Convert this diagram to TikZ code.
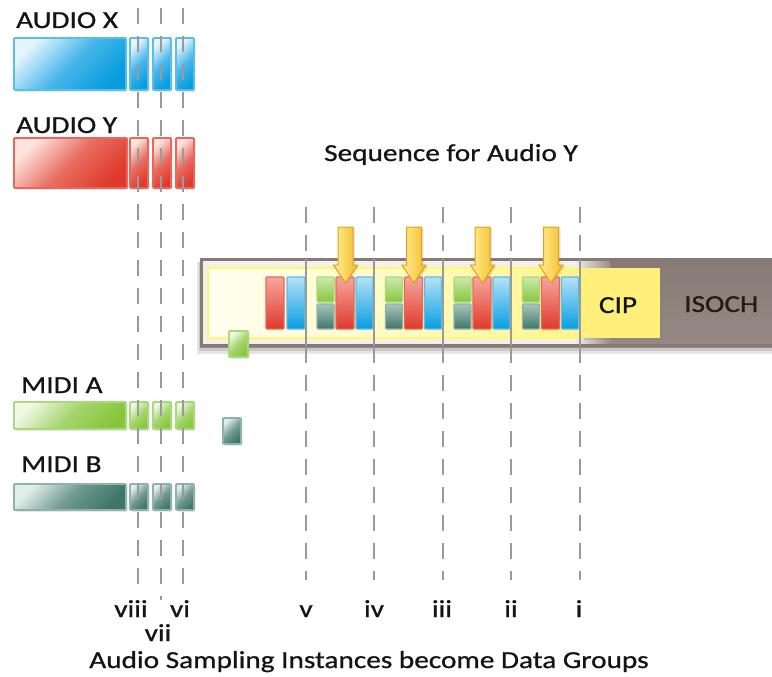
\documentclass[tikz,border=0pt]{standalone}
\usepackage{fontspec}
\setmainfont{Carlito}[FakeStretch=1.2, FakeBold=0.8]
\usetikzlibrary{shadows}

% stream colours: light / dark / edge
\definecolor{bluelight}{HTML}{E4F5FD}
\definecolor{bluedark}{HTML}{079DE0}
\definecolor{blueedge}{HTML}{5BBDE8}
\definecolor{redlight}{HTML}{FCE3DE}
\definecolor{reddark}{HTML}{DF3A2B}
\definecolor{rededge}{HTML}{E8675C}
\definecolor{greenlight}{HTML}{EEF8E2}
\definecolor{greendark}{HTML}{86C63C}
\definecolor{greenedge}{HTML}{A9D97A}
\definecolor{teallight}{HTML}{E2EEEA}
\definecolor{tealdark}{HTML}{3E7669}
\definecolor{tealedge}{HTML}{90B2A9}
% packet block colours
\definecolor{redtop}{HTML}{F6A79D}
\definecolor{bluetop}{HTML}{B5E2F8}
\definecolor{greentop}{HTML}{CDEAAE}
\definecolor{tealtop}{HTML}{A9C5BD}
% frame and CIP
\definecolor{isochtop}{HTML}{877A74}
\definecolor{isochbot}{HTML}{978A84}
\definecolor{framelight}{HTML}{F3EFED}
\definecolor{yellowedge}{HTML}{FFFA6A}
\definecolor{cipleft}{HTML}{FFFEF0}
\definecolor{cipmid}{HTML}{FFFBC4}
\definecolor{cipright}{HTML}{FFF48A}
\definecolor{cipyellow}{HTML}{FFF07C}
\definecolor{arrowlight}{HTML}{FFEE96}
\definecolor{arrowdark}{HTML}{F4BC28}
\definecolor{arrowedge}{HTML}{E0A21A}
\definecolor{guide}{HTML}{9A9A9A}
\definecolor{ink}{HTML}{141414}

\tikzset{
  lbl/.style={font=\fontsize{24.4}{28}\selectfont, text=ink, inner sep=0pt},
  srcbox/.style={draw=#1edge, line width=1.8pt, top color=#1light, bottom color=#1dark,
    middle color=#1dark!70!#1light, shading angle=45, rounded corners=1pt,
    drop shadow={shadow xshift=1.5pt, shadow yshift=-2pt, opacity=.18}},
  pkt/.style={draw=#1edge, line width=1.3pt, top color=#1top, bottom color=#1dark,
    rounded corners=1pt},
  guideline/.style={draw=guide, line width=1.6pt, dash pattern=on 16pt off 12pt},
  guidesolid/.style={draw=guide, line width=1.4pt},
  downarrow/.style={draw=arrowedge, line width=1pt, left color=arrowlight, right color=arrowdark,
    drop shadow={shadow xshift=2pt, shadow yshift=-1pt, opacity=.2}},
}

\begin{document}
\begin{tikzpicture}[x=1pt,y=-1pt]
\useasboundingbox[fill=white] (0,0) rectangle (772,677);

% ---- source streams ----
\node[lbl, anchor=base west] (audiox) at (16,28) {AUDIO X};
\path[srcbox=blue] (14,38) rectangle (126,90);
\foreach \x in {130,153,176} \path[srcbox=blue] (\x,38) rectangle ++(18,52);

\node[lbl, anchor=base west] (audioy) at (16,133) {AUDIO Y};
\path[srcbox=red] (14,138) rectangle (127,188);
\foreach \x in {130,153,176} \path[srcbox=red] (\x,138) rectangle ++(18,50);

\node[lbl, anchor=base west] (midia) at (21,393) {MIDI A};
\path[srcbox=green] (14,402) rectangle (126,429);
\foreach \x in {130,153,176} \path[srcbox=green] (\x,402) rectangle ++(18,27);

\node[lbl, anchor=base west] (midib) at (21,472) {MIDI B};
\path[srcbox=teal] (14,484) rectangle (126,510);
\foreach \x in {130,153,176} \path[srcbox=teal] (\x,484) rectangle ++(18,26);

% ---- isochronous packet frame ----
\fill[black, opacity=.10] (197,262) rectangle (772,354);
\fill[black, opacity=.12] (199,262) rectangle (772,351);
\shade[top color=isochtop, bottom color=isochbot] (200,258) rectangle (772,347);
\fill[framelight] (203,261) rectangle (575,344);
\shade[left color=framelight, right color=isochtop!85!white] (575,261) rectangle (610,344);
\draw[isochtop, line width=3pt] (772,259.5) -- (201.5,259.5) -- (201.5,345.5) -- (772,345.5);

% CIP area with its data blocks
\draw[yellowedge, line width=2.5pt, left color=cipleft, right color=cipright, middle color=cipmid]
  (208,268) rectangle (581,338);
\path[fill=cipyellow, drop shadow={shadow xshift=3pt, shadow yshift=-2pt, opacity=.25}]
  (581,268) rectangle (660,338);
\node[lbl, anchor=base] (cip) at (618,313) {CIP};
\node[lbl, anchor=base west, text=black!80!brown] (isoch) at (684,312) {ISOCH};

% leftover samples
\path[pkt=red]  (266,277) rectangle (284,329);
\path[pkt=blue] (287,277) rectangle (305,329);

% data groups
\foreach \k in {0,1,2,3} {
  \begin{scope}[xshift=\k*68.5pt]
    \path[pkt=green] (317,277) rectangle (334,302);
    \path[pkt=teal]  (317,304) rectangle (334,329);
    \path[pkt=red]   (336,277) rectangle (354,329);
    \path[pkt=blue]  (356,277) rectangle (373,329);
    \path[downarrow] (338,227) -- (353,227) -- (353,265) -- (357.5,265) -- (345.5,283)
      -- (333.5,265) -- (338,265) -- cycle;
  \end{scope}
}

% MIDI samples waiting outside the frame
\path[srcbox=green] (229,331) rectangle (248,357);
\path[srcbox=teal]  (223,418) rectangle (241,444);

% ---- sampling instance guides ----
\foreach \x in {138,183} \draw[guideline] (\x,8) -- (\x,588);
\draw[guideline] (161,8) -- (161,600);
\foreach \x in {306,374,443,511,580} {
  \draw[guideline] (\x,207) -- (\x,580);
  \draw[guidesolid] (\x,259) -- (\x,346);
}

% ---- labels ----
\node[lbl, anchor=base] (title) at (451,161) {Sequence for Audio Y};
\node[lbl, anchor=base] (n8) at (131,617) {viii};
\node[lbl, anchor=base] (n7) at (158,641) {vii};
\node[lbl, anchor=base] (n6) at (180,617) {vi};
\node[lbl, anchor=base] (n5) at (306,617) {v};
\node[lbl, anchor=base] (n4) at (374,617) {iv};
\node[lbl, anchor=base] (n3) at (442,617) {iii};
\node[lbl, anchor=base] (n2) at (511,617) {ii};
\node[lbl, anchor=base] (n1) at (579,617) {i};
\node[lbl, anchor=base] (caption) at (369,668) {Audio Sampling Instances become Data Groups};
\end{tikzpicture}
\end{document}
